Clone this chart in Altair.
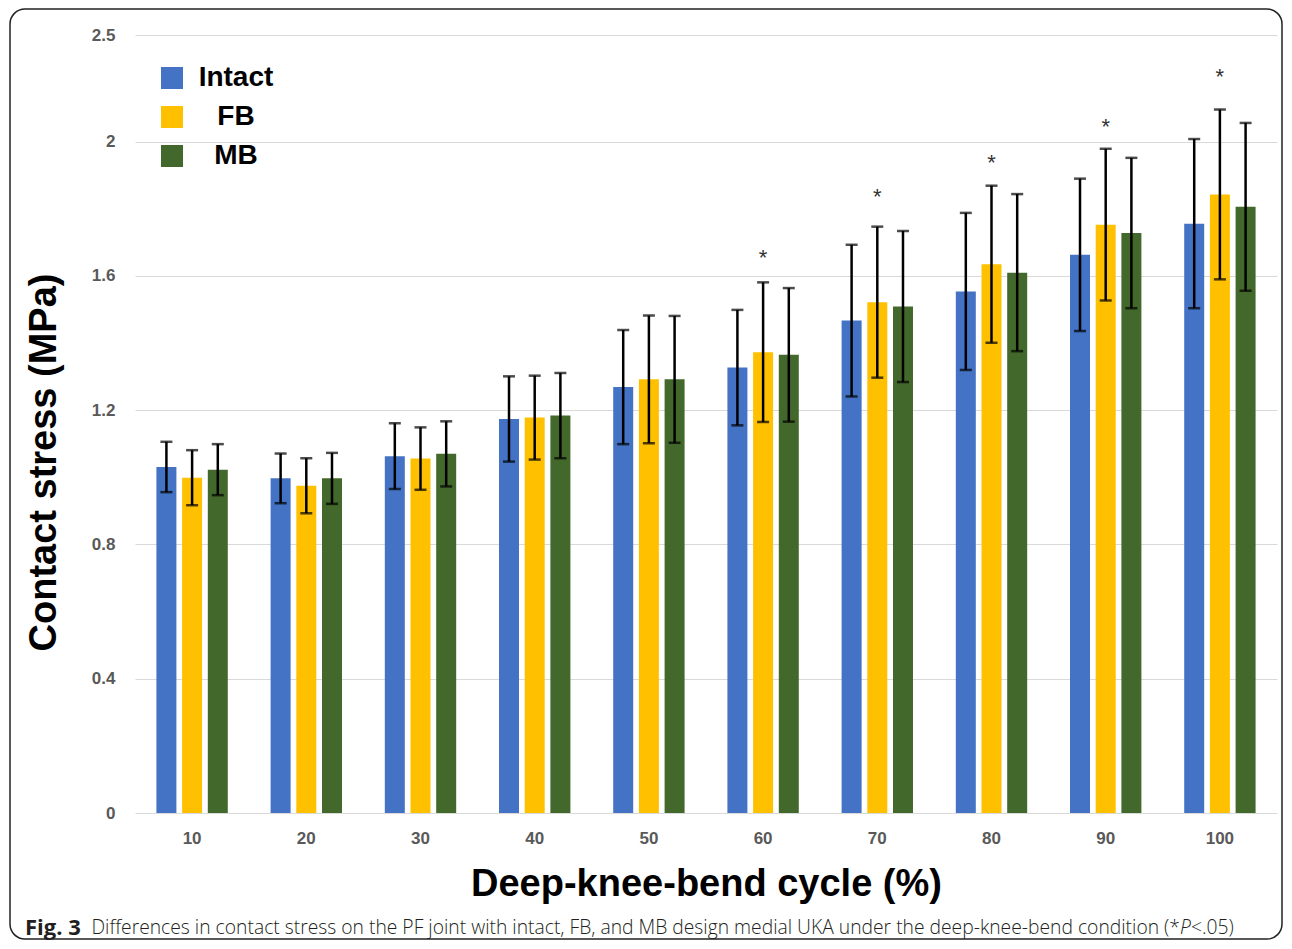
import altair as alt
import pandas as pd

cycles = [10, 20, 30, 40, 50, 60, 70, 80, 90, 100]
groups = ["Intact", "FB", "MB"]
colors = ["#4472C4", "#FFC000", "#43682B"]

intact_mean = [1.031, 0.997, 1.063, 1.174, 1.269, 1.327, 1.467, 1.554, 1.663, 1.756]
intact_err = [0.075, 0.074, 0.098, 0.127, 0.170, 0.172, 0.226, 0.234, 0.227, 0.252]
fb_mean = [0.999, 0.975, 1.056, 1.178, 1.292, 1.373, 1.522, 1.635, 1.753, 1.843]
fb_err = [0.082, 0.082, 0.093, 0.125, 0.190, 0.208, 0.225, 0.234, 0.226, 0.253]
mb_mean = [1.023, 0.997, 1.070, 1.184, 1.292, 1.365, 1.509, 1.610, 1.728, 1.806]
mb_err = [0.076, 0.076, 0.097, 0.127, 0.189, 0.199, 0.225, 0.234, 0.224, 0.250]

sig_cycles = [60, 70, 80, 90, 100]
sig_y = [1.672, 1.854, 1.955, 2.062, 2.210]

y_ticks = [0, 0.4, 0.8, 1.2, 1.6, 2.0, 2.318]

caption_bold = "Fig. 3"
caption_main = "Differences in contact stress on the PF joint with intact, FB, and MB design medial UKA under the deep-knee-bend condition (*"
caption_italic = "P"
caption_tail = "<.05)"

rows = []
for g, m, e in [("Intact", intact_mean, intact_err), ("FB", fb_mean, fb_err), ("MB", mb_mean, mb_err)]:
    for c, mv, ev in zip(cycles, m, e):
        rows.append({"cycle": str(c), "group": g, "mean": mv, "err": ev})
df = pd.DataFrame(rows)
sig_df = pd.DataFrame({"cycle": [str(c) for c in sig_cycles], "group": ["FB"] * len(sig_cycles), "y": sig_y, "t": ["*"] * len(sig_cycles)})

FONT = "Liberation Sans"
CAPFONT = "Open Sans"
cyc_order = [str(c) for c in cycles]

x_enc = alt.X("cycle:N", sort=cyc_order,
              scale=alt.Scale(paddingInner=0.375, paddingOuter=0.1875),
              axis=alt.Axis(title="Deep-knee-bend cycle (%)", labelAngle=0, domain=False, ticks=False,
                            labelFont=FONT, labelFontSize=17, labelFontWeight="bold", labelColor="#595959",
                            labelPadding=17, titleFont=FONT, titleFontSize=38, titleFontWeight="bold",
                            titleColor="#000000", titlePadding=19))
xo_enc = alt.XOffset("group:N", sort=groups, scale=alt.Scale(domain=groups, paddingInner=0.222, paddingOuter=0))
y_scale = alt.Scale(domain=[0, 2.318], nice=False, zero=True)

base = alt.Chart(df)

bars = base.mark_bar().encode(
    x=x_enc,
    xOffset=xo_enc,
    y=alt.Y("mean:Q", scale=y_scale,
            axis=alt.Axis(values=y_ticks, title="Contact stress (MPa)",
                          labelExpr="datum.value > 2.1 ? '2.5' : format(datum.value, '~g')",
                          domain=False, ticks=False, grid=True, gridColor="#d9d9d9", gridWidth=1,
                          labelFont=FONT, labelFontSize=17, labelFontWeight="bold", labelColor="#595959",
                          labelPadding=20, titleFont=FONT, titleFontSize=38, titleFontWeight="bold",
                          titleColor="#000000", titleX=-91, titleY=427, titleAngle=-90,
                          titleAlign="center", titleBaseline="middle")),
    color=alt.Color("group:N", sort=groups, scale=alt.Scale(domain=groups, range=colors),
                    legend=alt.Legend(title=None, orient="none", legendX=23, legendY=29, padding=0,
                                      symbolType="square", symbolSize=484, symbolStrokeWidth=0,
                                      labelFont=FONT, labelFontSize=28, labelFontWeight="bold",
                                      labelColor="#000000", labelAlign="center", labelOffset=50,
                                      rowPadding=11)),
)

err_base = base.transform_calculate(lo="datum.mean - datum.err", hi="datum.mean + datum.err")

rules = err_base.mark_rule(color="#000000", strokeWidth=2.5).encode(
    x=alt.X("cycle:N", sort=cyc_order), xOffset=xo_enc,
    y=alt.Y("lo:Q", scale=y_scale), y2="hi:Q")

cap_lo = err_base.mark_tick(color="#000000", thickness=2.5, size=12, orient="horizontal").encode(
    x=alt.X("cycle:N", sort=cyc_order), xOffset=xo_enc, y=alt.Y("lo:Q", scale=y_scale))
cap_hi = err_base.mark_tick(color="#000000", thickness=2.5, size=12, orient="horizontal").encode(
    x=alt.X("cycle:N", sort=cyc_order), xOffset=xo_enc, y=alt.Y("hi:Q", scale=y_scale))

stars = alt.Chart(sig_df).mark_text(font=FONT, fontSize=22, color="#333333", baseline="middle", dy=6).encode(
    x=alt.X("cycle:N", sort=cyc_order), xOffset=xo_enc, y=alt.Y("y:Q", scale=y_scale), text="t:N")

one = pd.DataFrame({"a": [0]})
frame = alt.Chart(one).mark_rect(fillOpacity=0, stroke="#222222", strokeWidth=1.5, cornerRadius=15).encode(
    x=alt.value(-125), x2=alt.value(1147), y=alt.value(-26), y2=alt.value(904))

cap1 = alt.Chart(pd.DataFrame({"t": [caption_bold]})).mark_text(
    font=CAPFONT, fontSize=22, fontWeight="bold", color="#231f20", align="left", baseline="middle").encode(
    text="t:N", x=alt.value(-110), y=alt.value(893))
cap2 = alt.Chart(pd.DataFrame({"t": [caption_main]})).mark_text(
    font=CAPFONT, fontSize=19.3, fontWeight=300, color="#231f20", align="right", baseline="middle").encode(
    text="t:N", x=alt.value(1045), y=alt.value(893))
cap3 = alt.Chart(pd.DataFrame({"t": [caption_italic]})).mark_text(
    font=CAPFONT, fontSize=19.3, fontWeight=300, fontStyle="italic", color="#231f20", align="left",
    baseline="middle").encode(text="t:N", x=alt.value(1045), y=alt.value(893))
cap4 = alt.Chart(pd.DataFrame({"t": [caption_tail]})).mark_text(
    font=CAPFONT, fontSize=19.3, fontWeight=300, color="#231f20", align="left", baseline="middle").encode(
    text="t:N", x=alt.value(1056), y=alt.value(893))

chart = alt.layer(bars, rules, cap_lo, cap_hi, stars, frame, cap1, cap2, cap3, cap4).properties(
    width=1142, height=778,
    autosize=alt.AutoSizeParams(type="none"),
    padding={"left": 127, "top": 27, "right": 7, "bottom": 128},
).configure(background="#ffffff", view=alt.ViewConfig(stroke=None))

chart.save("out.html", embed_options={"renderer": "svg", "actions": False})
